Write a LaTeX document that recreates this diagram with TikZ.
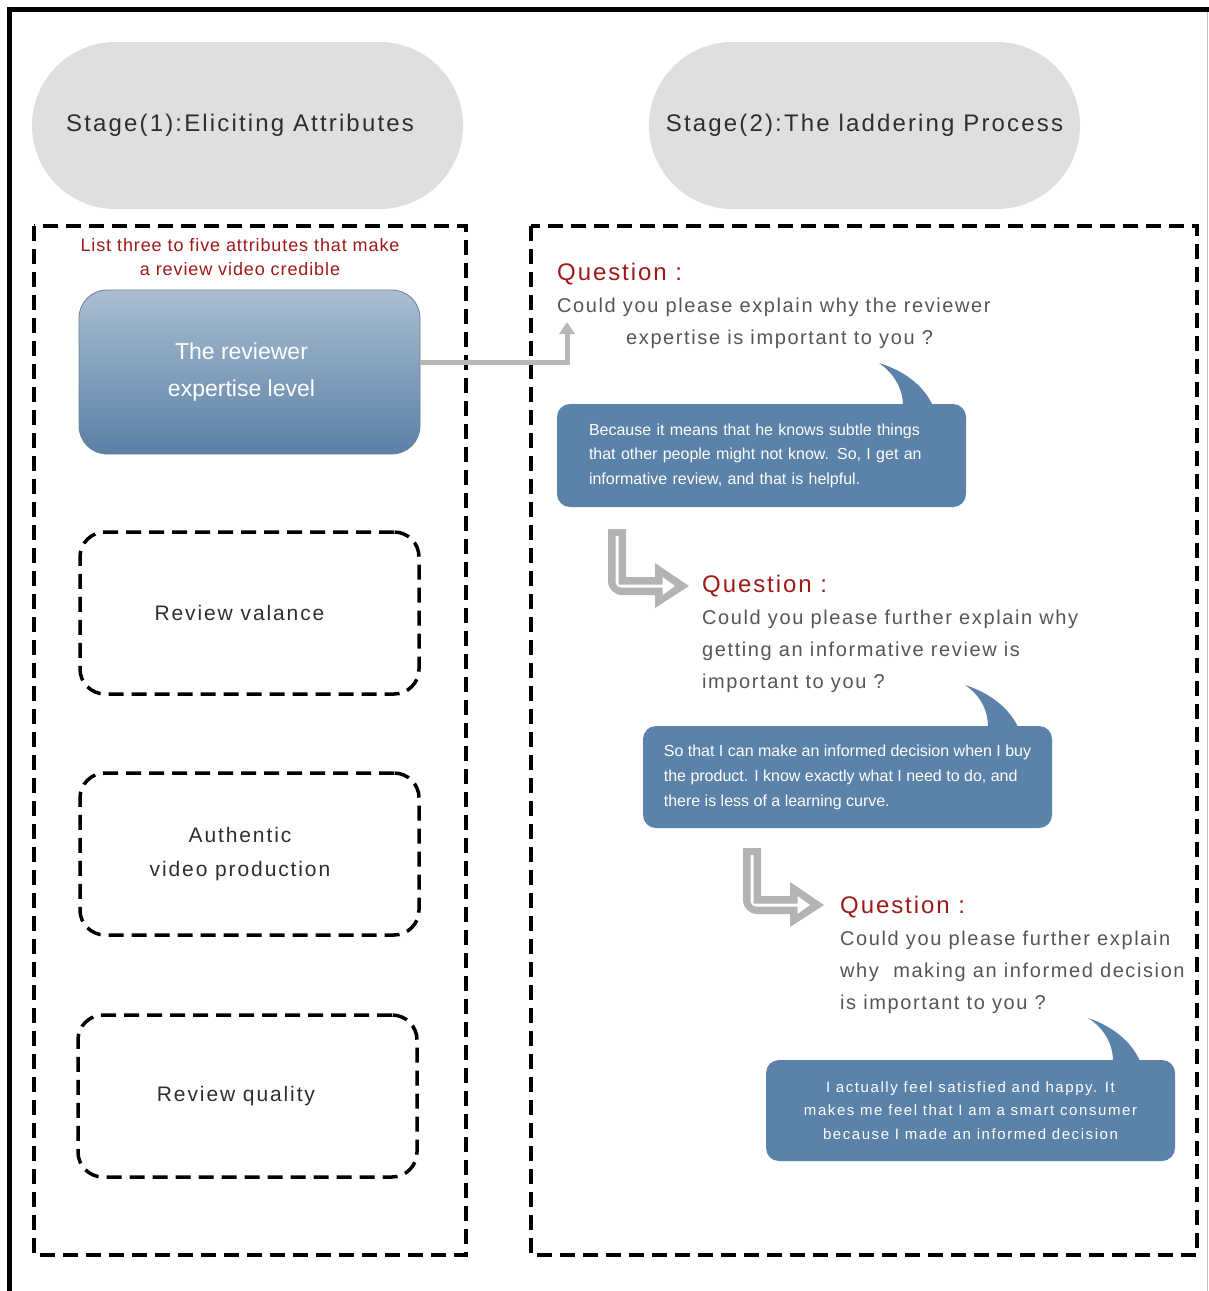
\documentclass[tikz,border=0pt]{standalone}
\usepackage{fontspec}
\setmainfont{Liberation Sans}
\newfontfamily\lsTitle[LetterSpace=9]{Liberation Sans}
\newfontfamily\lsQT[LetterSpace=8]{Liberation Sans}
\newfontfamily\lsQ[LetterSpace=8]{Liberation Sans}
\newfontfamily\lsRed[LetterSpace=5]{Liberation Sans}
\newfontfamily\lsBox[LetterSpace=9]{Liberation Sans}
\newfontfamily\lsBub[LetterSpace=10.5]{Liberation Sans}
\usetikzlibrary{shapes.misc,arrows.meta,calc}
\definecolor{pillgray}{HTML}{DFDFDF}
\definecolor{titlegray}{HTML}{2E2E2E}
\definecolor{qgray}{HTML}{555555}
\definecolor{qred}{HTML}{A01818}
\definecolor{bubblue}{HTML}{5B82A8}
\definecolor{exptop}{HTML}{AABED1}
\definecolor{expbot}{HTML}{5A80A6}
\definecolor{expline}{HTML}{6F8194}
\definecolor{conngray}{HTML}{B8B8B8}
\definecolor{arrowgray}{HTML}{B3B3B3}
\newcommand\qtitle{\color{qred}\lsQT\fontsize{24}{32}\selectfont}
\begin{document}
\begin{tikzpicture}[x=1pt,y=-1pt,
  pill/.style={rounded rectangle, fill=pillgray, minimum width=431pt, minimum height=167pt, inner sep=0pt,
    text=titlegray, font={\lsTitle\fontsize{24}{28}\selectfont}},
  dashbox/.style={line width=3.5pt, dash pattern=on 15pt off 8pt},
  redtxt/.style={text=qred, align=center, inner sep=0pt, font={\lsRed\fontsize{18}{24}\selectfont}},
  expbox/.style={rounded corners=28pt, minimum width=341pt, minimum height=164pt, top color=exptop, bottom color=expbot,
    draw=expline, line width=0.8pt, text=white, align=center, font={\fontsize{23}{37}\selectfont}},
  attrbox/.style={draw, dashbox, rounded corners=25pt, minimum width=339pt, minimum height=162pt,
    text=titlegray, align=center, font={\lsBox\fontsize{21}{34}\selectfont}},
  conn/.style={draw=conngray, line width=5pt, -{Triangle[width=15pt,length=12pt]}},
  qnode/.style={anchor=north west, inner sep=0pt, align=left, text=qgray, font={\lsQ\fontsize{20}{32}\selectfont}},
  bubble/.style={fill=bubblue, rounded corners=13pt, minimum width=409pt, inner sep=0pt, text=white},
  larrow/.pic={
    \fill[arrowgray] (-9,0) -- (9,0) -- (9,48) -- (38,48) -- (38,34) -- (72,57) -- (38,79) -- (38,66)
      {[rounded corners=14pt] -- (-9,66) -- (-9,30)} -- cycle;
    \fill[white] (-1.5,7) -- (1.5,7) -- (1.5,55.5) -- (45.5,55.5) -- (45.5,48) -- (58,57) -- (45.5,66) -- (45.5,58.5)
      {[rounded corners=6pt] -- (-1.5,58.5) -- (-1.5,30)} -- cycle;
  }
]
\useasboundingbox (0,0) rectangle (1209,1291);
% outer frame
\draw[line width=5pt] (9.5,1291) -- (9.5,9.5) -- (1209,9.5);
\draw[black!25, line width=1pt] (1207,12) -- (1207,1291);

% stage pills
\node[pill] (s1) at (247.5,125.5) {\hspace*{-15pt}Stage(1):Eliciting Attributes};
\node[pill] (s2) at (864.5,125.5) {Stage(2):The laddering Process};

% dashed frames
\draw[dashbox] (34,226) rectangle (466,1255);
\draw[dashbox] (531,226) rectangle (1197,1255);

% left column
\node[redtxt] (hint) at (240,257) {List three to five attributes that make\\a review video credible};
\node[expbox] (exp) at (249.5,372) {\hspace*{-16pt}The reviewer\\\hspace*{-16pt}expertise level};
\node[attrbox] (val) at (249.5,613) {\hspace*{-20pt}Review valance};
\node[attrbox] (auth) at (249.5,854) {\hspace*{-19pt}Authentic\\\hspace*{-19pt}video production};
\node[attrbox] (qual) at (247.5,1096) {\hspace*{-23pt}Review quality};

% connector
\coordinate (q1tip) at (567,322);
\draw[conn] ([yshift=10pt]exp.east) -| (q1tip);

% questions
\node[qnode] (q1) at (557,263) {{\qtitle Question :}\\Could you please explain why the reviewer\\\hspace*{69pt}expertise is important to you ?};
\node[qnode] (q2) at (702,575) {{\qtitle Question :}\\Could you please further explain why\\getting an informative review is\\important to you ?};
\node[qnode] (q3) at (840,896) {{\qtitle Question :}\\Could you please further explain\\why~ making an informed decision\\is important to you ?};

% bubbles
\fill[bubblue] (903,406) .. controls (903,390) and (895,374) .. (879,363) .. controls (905,371) and (924,386) .. (933,406) -- cycle;
\node[bubble, minimum height=103pt, text width=345pt, inner xsep=32pt, align=left, font={\fontsize{16}{24.5}\selectfont}] (b1) at (761.5,455.5)
  {Because it means that he knows subtle things\\that other people might not know. So, I get an\\informative review, and that is helpful.};
\fill[bubblue] (988,727) .. controls (988,710) and (980,695) .. (965,685) .. controls (990,693) and (1009,708) .. (1018,727) -- cycle;
\node[bubble, minimum height=102pt, align=left, font={\fontsize{16}{25}\selectfont}] (b2) at (847.5,777)
  {So that I can make an informed decision when I buy\\the product. I know exactly what I need to do, and\\there is less of a learning curve.};
\fill[bubblue] (1113,1061) .. controls (1113,1044) and (1104,1028) .. (1088,1018) .. controls (1112,1026) and (1131,1041) .. (1140,1061) -- cycle;
\node[bubble, minimum height=101pt, align=center, font={\lsBub\fontsize{15}{23.5}\selectfont}] (b3) at (970.5,1110.5)
  {I actually feel satisfied and happy. It\\makes me feel that I am a smart consumer\\because I made an informed decision};

% follow-up arrows
\pic (a1) at (617,529) {larrow};
\pic (a2) at (752,848) {larrow};
\end{tikzpicture}
\end{document}
